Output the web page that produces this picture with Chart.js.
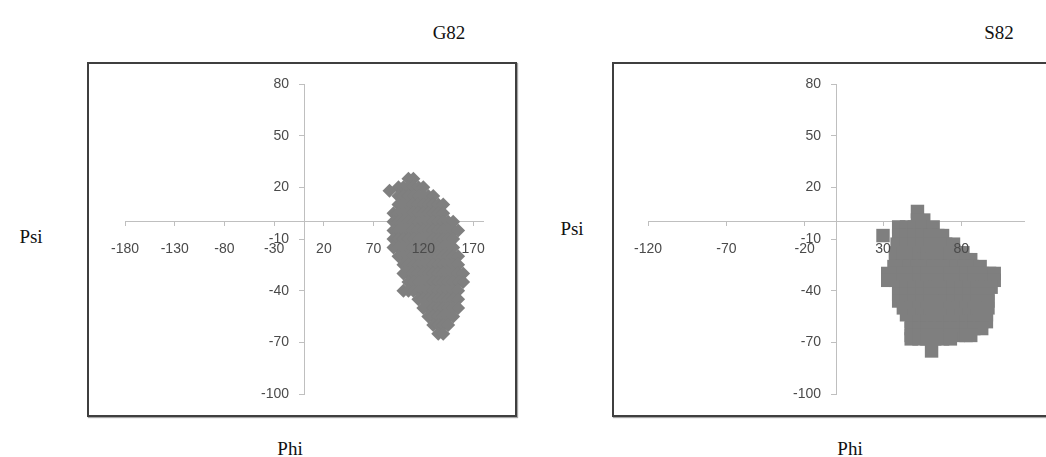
<!DOCTYPE html>
<html>
<head>
<meta charset="utf-8">
<script src="https://cdn.jsdelivr.net/npm/chart.js@4.4.1/dist/chart.umd.min.js"></script>
<style>
  html, body { margin: 0; padding: 0; background: #fff; }
  body { position: relative; width: 1046px; height: 457px; overflow: hidden; }
  .frame { position: absolute; box-sizing: border-box; border: 2px solid #3f3f3f; box-shadow: 1px 1px 1px rgba(0,0,0,0.35); }
  canvas { position: absolute; }
  .lbl { position: absolute; font-family: "Liberation Serif", "DejaVu Serif", serif; font-size: 19px; color: #111; transform: translate(-50%, -50%); white-space: nowrap; }
</style>
</head>
<body>
<div class="frame" style="left:87px;top:62px;width:430px;height:355px"></div>
<div class="frame" style="left:612px;top:62px;width:450px;height:355px"></div>
<canvas id="g82" width="430" height="355" style="left:87px;top:62px"></canvas>
<canvas id="s82" width="450" height="355" style="left:612px;top:62px"></canvas>

<div class="lbl" style="left:449px;top:33px">G82</div>
<div class="lbl" style="left:999px;top:33px">S82</div>
<div class="lbl" style="left:31px;top:237px">Psi</div>
<div class="lbl" style="left:572px;top:229px">Psi</div>
<div class="lbl" style="left:290px;top:449px">Phi</div>
<div class="lbl" style="left:850px;top:449px">Phi</div>

<script>
// Tick values of the axes
const psiTicks = [-100, -70, -40, -10, 20, 50, 80];
const g82PhiTicks = [-180, -130, -80, -30, 20, 70, 120, 170];
const s82PhiTicks = [-120, -70, -20, 30, 80];

// G82 conformations: one psi value per row, with the phi values sampled at that psi
const g82Psi = [25, 20, 18, 15, 10, 5, 0, -5, -10, -15, -20, -25, -30, -35, -40, -45, -50, -55, -60, -65];
const g82Phi = [
  [105, 110],
  [95, 100, 105, 110, 115, 120],
  [86],
  [95, 100, 105, 110, 115, 120, 125, 130],
  [95, 100, 105, 110, 115, 120, 125, 130, 135, 140],
  [90, 95, 100, 105, 110, 115, 120, 125, 130, 135, 140],
  [90, 95, 100, 105, 110, 115, 120, 125, 130, 135, 140, 145, 150],
  [90, 95, 100, 105, 110, 115, 120, 125, 130, 135, 140, 145, 150, 155],
  [90, 95, 100, 105, 110, 115, 120, 125, 130, 135, 140, 145, 150],
  [90, 95, 100, 105, 110, 115, 120, 125, 130, 135, 140, 145, 150],
  [95, 100, 105, 110, 115, 120, 125, 130, 135, 140, 145, 150, 155],
  [100, 105, 110, 115, 120, 125, 130, 135, 140, 145, 150, 155],
  [100, 105, 110, 115, 120, 125, 130, 135, 140, 145, 150, 155, 160],
  [105, 110, 115, 120, 125, 130, 135, 140, 145, 150, 155, 160],
  [100, 105, 110, 115, 120, 125, 130, 135, 140, 145, 150, 155],
  [115, 120, 125, 130, 135, 140, 145, 150, 155],
  [120, 125, 130, 135, 140, 145, 150, 155],
  [125, 130, 135, 140, 145, 150],
  [130, 135, 140, 145],
  [135, 140]
];

// S82 conformations, same layout
const s82Psi = [6, 1, -3, -8, -13, -18, -22, -26, -30, -34, -38, -42, -46, -50, -54, -58, -62, -66, -68, -75];
const s82Phi = [
  [52],
  [52, 56],
  [40, 45, 50, 55, 62],
  [30, 40, 45, 50, 55, 60, 65, 68],
  [39, 45, 50, 55, 60, 65, 70, 75],
  [38, 43, 48, 53, 58, 63, 68, 73, 78, 81],
  [38, 43, 48, 53, 58, 63, 68, 73, 78, 83, 86],
  [37, 42, 47, 52, 57, 62, 67, 72, 77, 82, 87, 92],
  [33, 38, 43, 48, 53, 58, 63, 68, 73, 78, 83, 88, 93, 98, 101],
  [33, 38, 43, 48, 53, 58, 63, 68, 73, 78, 83, 88, 93, 98, 101],
  [40, 45, 50, 55, 60, 65, 70, 75, 80, 85, 90, 95, 99],
  [40, 45, 50, 55, 60, 65, 70, 75, 80, 85, 90, 95, 97],
  [40, 45, 50, 55, 60, 65, 70, 75, 80, 85, 90, 95, 97],
  [43, 48, 53, 58, 63, 68, 73, 78, 83, 88, 93, 97],
  [45, 50, 55, 60, 65, 70, 75, 80, 85, 90, 96],
  [48, 53, 58, 63, 68, 73, 78, 83, 88, 93, 96],
  [48, 53, 58, 63, 68, 73, 78, 83, 88, 93],
  [48, 53, 58, 63, 68, 73, 78, 83, 86],
  [48, 53, 58, 63, 68, 73],
  [61]
];

function toPoints(psiRows, phiRows) {
  const pts = [];
  psiRows.forEach((psi, i) => phiRows[i].forEach(phi => pts.push({ x: phi, y: psi })));
  return pts;
}

const axisGrey = '#bfbfbf';
const tickFamily = '"Liberation Sans", Arial, sans-serif';
const tickSize = 14;
const tickColor = '#4a4a4a';

// Psi tick labels sit to the left of the crossing axis, drawn above the markers
const psiLabels = {
  id: 'psiLabels',
  afterDatasetsDraw(chart) {
    const { ctx, scales: { x, y } } = chart;
    const axisX = x.getPixelForValue(0);
    ctx.save();
    ctx.font = tickSize + 'px ' + tickFamily;
    ctx.fillStyle = tickColor;
    ctx.textAlign = 'right';
    ctx.textBaseline = 'middle';
    y.ticks.forEach(t => ctx.fillText(String(t.value), axisX - 15, y.getPixelForValue(t.value)));
    ctx.restore();
  }
};

function makePlot(canvasId, points, style, radius, phiMin, phiMax, phiTicks, padding) {
  return new Chart(document.getElementById(canvasId), {
    type: 'scatter',
    data: {
      datasets: [{
        data: points,
        pointStyle: style,
        pointRadius: radius,
        pointHoverRadius: radius,
        pointBackgroundColor: '#7f7f7f',
        pointBorderWidth: 0,
        showLine: false
      }]
    },
    plugins: [psiLabels],
    options: {
      responsive: false,
      animation: false,
      events: [],
      layout: { padding: padding },
      plugins: { legend: { display: false }, tooltip: { enabled: false }, title: { display: false } },
      scales: {
        x: {
          type: 'linear',
          min: phiMin,
          max: phiMax,
          position: { y: 0 },
          afterBuildTicks: scale => { scale.ticks = phiTicks.map(v => ({ value: v })); },
          grid: { drawOnChartArea: false, drawTicks: true, tickLength: 4, color: axisGrey },
          border: { display: true, color: axisGrey, width: 1 },
          ticks: { z: 1, autoSkip: false, maxRotation: 0, padding: 15,
                   font: { family: tickFamily, size: tickSize }, color: tickColor }
        },
        y: {
          type: 'linear',
          min: -100,
          max: 80,
          position: { x: 0 },
          afterBuildTicks: scale => { scale.ticks = psiTicks.map(v => ({ value: v })); },
          grid: { drawOnChartArea: false, drawTicks: true, tickLength: 5, color: axisGrey },
          border: { display: true, color: axisGrey, width: 1 },
          ticks: { display: false }
        }
      }
    }
  });
}

makePlot('g82', toPoints(g82Psi, g82Phi), 'rectRot', 7, -180, 180, g82PhiTicks,
  { left: 38, right: 34, top: 22, bottom: 23 });
makePlot('s82', toPoints(s82Psi, s82Phi), 'rect', 9.5, -120, 120, s82PhiTicks,
  { left: 36, right: 38, top: 22, bottom: 23 });
</script>
</body>
</html>
